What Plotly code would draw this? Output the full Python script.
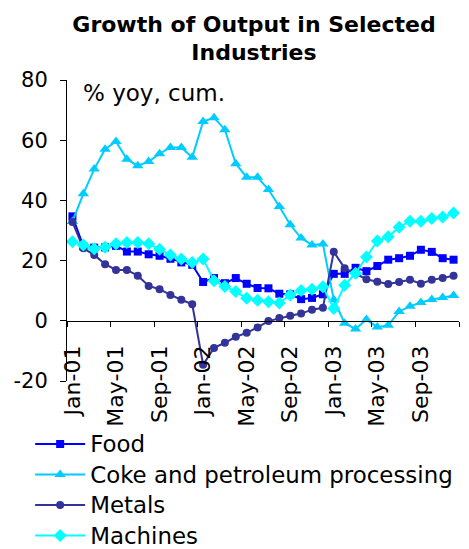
import plotly.graph_objects as go

months = list(range(36))
tick_idx = [0, 4, 8, 12, 16, 20, 24, 28, 32]
tick_labels = ["Jan-01", "May-01", "Sep-01", "Jan-02", "May-02", "Sep-02", "Jan-03", "May-03", "Sep-03"]
boundaries = [-0.5, 3.5, 7.5, 11.5, 15.5, 19.5, 23.5, 27.5, 31.5, 35.5]
y_ticks = [-20, 0, 20, 40, 60, 80]
y_tick_labels = ["-20", "0", "20", "40", "60", "80"]

food = [34.7, 24.7, 24.3, 24.4, 24.9, 23, 23, 22.1, 21.6, 20.6, 19.4, 18.6, 12.9, 14.2, 12.5, 14.2, 12.3, 10.9, 10.8, 9,
        8.8, 7.2, 7.6, 8.8, 15.6, 15.6, 17.6, 16.5, 18.2, 20.3, 20.8, 21.6, 23.6, 22.9, 20.8, 20.3]
coke = [33, 42.2, 50.4, 57, 59.6, 53.7, 51.5, 52.9, 55.5, 57.6, 57.6, 54.3, 66.2, 67.5, 63.5, 52.2, 47.7, 47.7, 43.6, 38,
        31.9, 27.5, 25.2, 25.5, 7, -0.8, -2.7, 0.4, -2.1, -1.5, 3.1, 4.8, 6.1, 7.1, 7.7, 8.4]
metals = [32.8, 24.1, 21.9, 18.8, 16.9, 16.9, 15, 11.6, 10.5, 8.6, 7, 5.5, -14.6, -9, -7.3, -5.3, -4, -2.2, -0.1, 0.9,
          1.7, 2.4, 3.7, 4.3, 22.9, 17.5, 15.6, 13.8, 13, 12.2, 12.9, 13.6, 12.3, 13.6, 14.2, 15]
machines = [26.3, 25.2, 23.9, 24.4, 25.6, 26, 26, 25.6, 23.8, 21.9, 20.5, 19.4, 20.5, 13.3, 11.4, 9.7, 7.5, 6.8, 6.3, 5.9,
            8.6, 10.1, 10.5, 11.3, 4.1, 11.8, 15.8, 21.2, 26.5, 27.9, 31.1, 33.1, 33.1, 34, 34.5, 35.8]

series = [
    ("Food", food, "#0000FF", "square", 8),
    ("Coke and petroleum processing", coke, "#00CCFF", "triangle-up", 10),
    ("Metals", metals, "#333399", "circle", 8),
    ("Machines", machines, "#00FFFF", "diamond", 10),
]

FONT = "DejaVu Sans"
fig = go.Figure()
for name, vals, color, sym, sz in series:
    fig.add_trace(go.Scatter(
        x=months, y=vals, name='<span style="font-size:22.9px">' + name + '</span>',
        mode="lines+markers",
        line=dict(color=color, width=2),
        marker=dict(symbol=sym, size=sz, color=color),
    ))

fig.update_layout(
    width=469, height=549,
    margin=dict(l=67, r=10, t=80, b=168, autoexpand=False),
    paper_bgcolor="white", plot_bgcolor="white",
    font=dict(family=FONT, size=20, color="black"),
    title=dict(text="<b>Growth of Output in Selected<br>Industries</b>",
               x=0.5416, xref="container", xanchor="center",
               y=0.942, yref="container", yanchor="middle",
               font=dict(family=FONT, size=22, color="black")),
    showlegend=True,
    legend=dict(x=-0.094, xanchor="left", y=-0.142, yanchor="top",
                orientation="v", font=dict(family=FONT, size=21.15),
                itemwidth=50, tracegroupgap=0, bgcolor="rgba(0,0,0,0)"),
    xaxis=dict(range=[-0.5, 35.5], anchor="free", position=0.2, automargin=False,
               tickmode="array", tickvals=tick_idx, ticktext=tick_labels,
               tickangle=-90, ticks="outside", ticklen=15, tickcolor="rgba(0,0,0,0)",
               showline=True, linecolor="black", linewidth=1,
               showgrid=False, zeroline=False, tickfont=dict(family=FONT, size=22),
               minor=dict(tickmode="array", tickvals=boundaries, ticks="outside",
                          ticklen=5, tickcolor="black", showgrid=False)),
    yaxis=dict(range=[-20, 80], tickmode="array", tickvals=y_ticks, ticktext=y_tick_labels,
               ticks="outside", ticklen=6, tickcolor="black", ticklabelstandoff=8,
               showline=True, linecolor="black", linewidth=1, automargin=False,
               showgrid=False, zeroline=False, tickfont=dict(family=FONT, size=21)),
    annotations=[dict(text="% yoy, cum.", xref="paper", yref="paper", x=0.036, y=0.957,
                      xanchor="left", yanchor="middle", showarrow=False,
                      font=dict(family=FONT, size=23, color="black"))],
)

fig.write_html("out.html")
